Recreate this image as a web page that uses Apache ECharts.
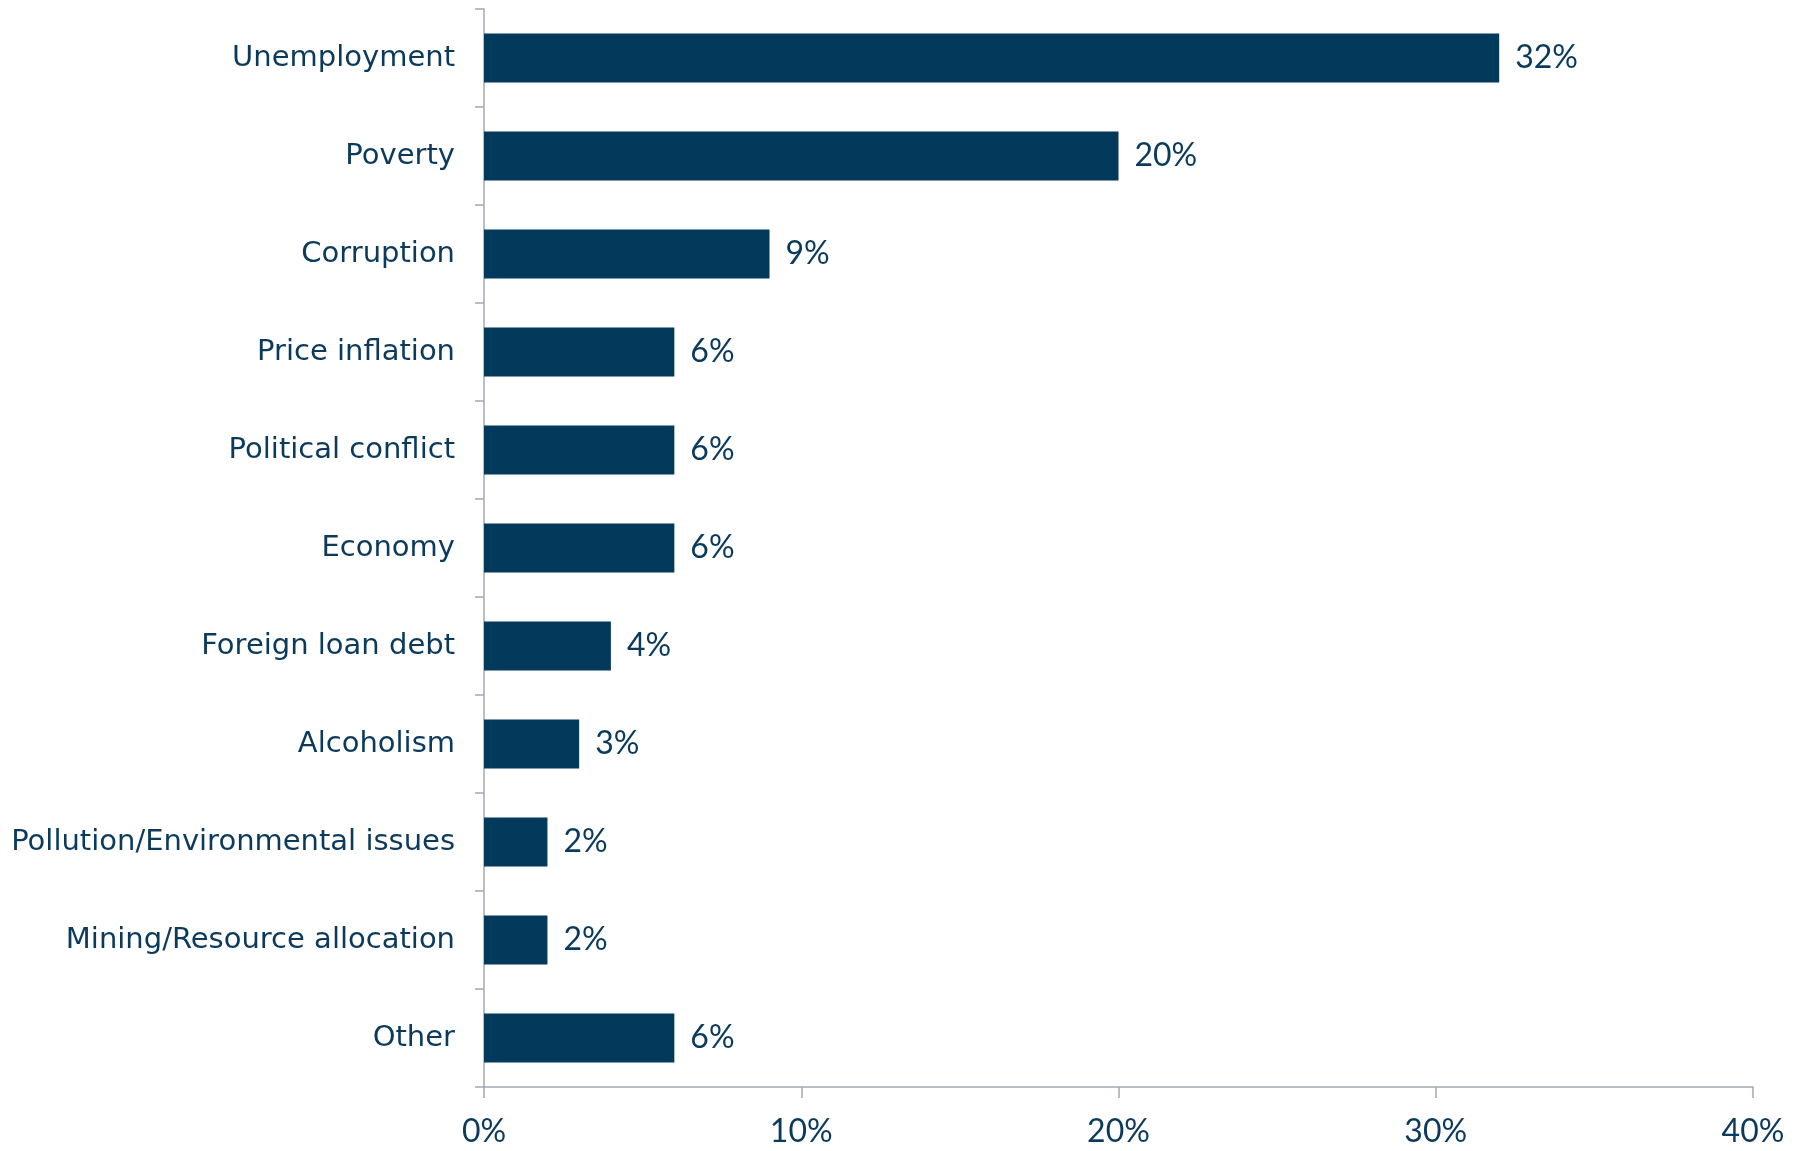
<!DOCTYPE html>
<html>
<head>
<meta charset="utf-8">
<script src="https://cdn.jsdelivr.net/npm/echarts@6/dist/echarts.min.js"></script>
<style>html,body{margin:0;padding:0;background:#fff;}#c{width:1806px;height:1151px;}</style>
</head>
<body>
<div id="c"></div>
<script>
const categories = ["Unemployment","Poverty","Corruption","Price inflation","Political conflict","Economy","Foreign loan debt","Alcoholism","Pollution/Environmental issues","Mining/Resource allocation","Other"];
const values = [32,20,9,6,6,6,4,3,2,2,6];
const xTicks = [0,10,20,30,40];

const chart = echarts.init(document.getElementById('c'));
const textColor = '#0B3A5C';
const axisColor = '#A3A9B3';
const numFont = 'Lato, sans-serif';
chart.setOption({
  animation: false,
  grid: {left: 484, right: 53, top: 9, bottom: 64, containLabel: false},
  xAxis: {
    type: 'value', min: xTicks[0], max: xTicks[xTicks.length-1], interval: 10,
    splitLine: {show: false},
    axisLine: {show: true, lineStyle: {color: axisColor, width: 1.5}},
    axisTick: {show: true, length: 11, lineStyle: {color: axisColor, width: 1.5}},
    axisLabel: {formatter: v => v + '%', color: textColor, fontFamily: numFont, fontSize: 32, margin: 29}
  },
  yAxis: {
    type: 'category', data: categories, inverse: true,
    axisLine: {show: true, lineStyle: {color: axisColor, width: 1.5}},
    axisTick: {show: true, length: 9, lineStyle: {color: axisColor, width: 1.5}},
    axisLabel: {color: textColor, fontFamily: 'DejaVu Sans', fontSize: 29, margin: 29}
  },
  series: [{
    type: 'bar', data: values, barWidth: '50%',
    itemStyle: {color: '#033A5B'},
    label: {show: true, position: 'right', distance: 16, formatter: p => p.value + '%', color: textColor, fontFamily: numFont, fontSize: 32}
  }]
});
</script>
</body>
</html>
